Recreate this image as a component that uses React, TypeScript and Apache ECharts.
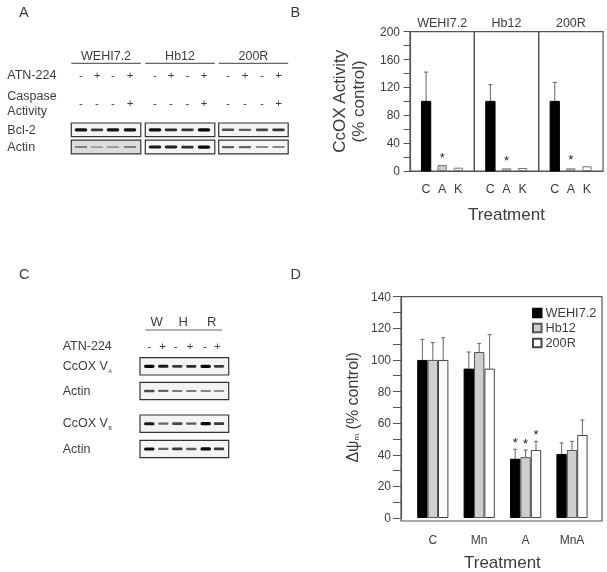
import React, { useEffect, useRef } from "react";
import * as echarts from "echarts";

// ---------- data ----------
const cellLines = ["WEHI7.2", "Hb12", "200R"];
const treatB = ["", "C", "A", "K", ""];
const cocoxC = [100, 100, 100];
const cocoxA = [8.5, 3.8, 3.8];
const cocoxK = [4.8, 4.3, 6.7];
const cocoxCTop = [142, 124, 127];
const cocoxStars = [23, 18.7, 19.6];

const treatD = ["C", "Mn", "A", "MnA"];
const psiWehi = [100, 94.5, 37.5, 40.5];
const psiHb12 = [100, 105, 38.5, 43];
const psi200R = [100, 94.5, 43, 52.5];
const psiWehiTop = [113, 105, 43.5, 47.5];
const psiHb12Top = [111, 110.5, 43, 48.5];
const psi200RTop = [114, 116, 48.5, 62];
const psiStars: (number | null)[][] = [
  [null, null, 49.5, null],
  [null, null, 49, null],
  [null, null, 54.5, null],
];

const atnSigns = ["-", "+", "-", "+"];
const caspaseSigns = ["-", "-", "-", "+"];
const atnSignsC = ["-", "+", "-", "+", "-", "+"];
const bcl2Bands = [
  [0.92, 0.72, 0.92, 0.92],
  [0.95, 0.8, 0.75, 1],
  [0.62, 0.52, 0.66, 0.76],
];
const actinABands = [
  [0.35, 0.22, 0.25, 0.35],
  [0.9, 0.85, 0.8, 1],
  [0.52, 0.5, 0.3, 0.3],
];
const vaBands = [1, 0.9, 0.72, 0.8, 1, 0.72];
const actinC1Bands = [0.62, 0.5, 0.38, 0.38, 0.32, 0.28];
const vbBands = [0.9, 0.5, 0.65, 0.55, 1, 0.72];
const actinC2Bands = [0.95, 0.5, 0.72, 0.55, 1, 0.72];

// ---------- styling ----------
const FONT = '"Liberation Sans", Arial, sans-serif';
const TEXT = "#3c3c3c";
const LINE = "#555";
const bandColor = (v: number) => {
  const c = Math.round(195 - 190 * v);
  return `rgb(${c},${c},${c})`;
};
const txt = (x: number, y: number, text: string, fontSize = 12.5, align = "left", fill = TEXT) => ({
  type: "text",
  x,
  y,
  silent: true,
  style: { text, fontSize, fontFamily: FONT, fill, align, verticalAlign: "middle" },
});
const hline = (x1: number, x2: number, y: number) => ({
  type: "line",
  silent: true,
  shape: { x1, y1: y, x2, y2: y },
  style: { stroke: "#666", lineWidth: 1.2 },
});
const blot = (x: number, y: number, w: number, h: number, centers: number[], bands: number[], bandW: number, bg = "#f4f4f4") => [
  {
    type: "rect",
    silent: true,
    shape: { x, y, width: w, height: h },
    style: { fill: bg, stroke: "#333", lineWidth: 1.2 },
  },
  ...bands.map((v, i) => {
    const bh = 1.4 + 1.8 * v;
    return {
      type: "rect",
      silent: true,
      shape: { x: centers[i] - bandW / 2, y: y + h / 2 - bh / 2, width: bandW, height: bh, r: bh / 2 },
      style: { fill: bandColor(v) },
    };
  }),
];

function buildGraphics() {
  const g: any[] = [];
  g.push(txt(19, 12, "A", 14.5), txt(290.5, 12, "B", 14.5), txt(19, 274, "C", 14.5), txt(290.5, 274, "D", 14.5));

  // panel A
  const boxes = [71.3, 145.3, 218.7];
  const boxW = 69.5;
  const laneCols = [
    [81, 97, 113, 130],
    [155, 171, 187.5, 204],
    [228, 245, 262, 278.5],
  ];
  g.push(txt(7.3, 75, "ATN-224"), txt(7.3, 96, "Caspase"), txt(7.3, 110.7, "Activity"), txt(7.3, 130, "Bcl-2"), txt(7.3, 147, "Actin"));
  cellLines.forEach((name, k) => {
    g.push(txt(boxes[k] + boxW / 2, 55.5, name, 12.5, "center"));
    g.push(hline(boxes[k], boxes[k] + boxW, 63.3));
    laneCols[k].forEach((cx, i) => {
      g.push(txt(cx, 75, atnSigns[i], 11.5, "center"));
      g.push(txt(cx, 103, caspaseSigns[i], 11.5, "center"));
    });
    g.push(...blot(boxes[k], 123, boxW, 13.7, laneCols[k], bcl2Bands[k], 12.5));
    g.push(...blot(boxes[k], 140.2, boxW, 13.7, laneCols[k], actinABands[k], 12.5, k === 0 ? "#dcdcdc" : "#f4f4f4"));
  });

  // panel C
  g.push(txt(156.7, 321.5, "W", 13, "center"), txt(183.3, 321.5, "H", 13, "center"), txt(211.7, 321.5, "R", 13, "center"));
  g.push(hline(145.3, 222.3, 330));
  g.push(txt(62.7, 346.3, "ATN-224"));
  const signCols = [149.3, 162.7, 175.7, 190, 205, 217.3];
  atnSignsC.forEach((s, i) => g.push(txt(signCols[i], 346, s, 11.5, "center")));
  const cCols = [149.3, 163.3, 177.3, 191.3, 205.7, 219];
  g.push(txt(62.7, 366, "CcOX V"), txt(108.5, 371, "A", 5));
  g.push(txt(62.7, 390.7, "Actin"));
  g.push(txt(62.7, 423.3, "CcOX V"), txt(108.5, 428, "B", 5));
  g.push(txt(62.7, 449, "Actin"));
  g.push(...blot(140, 357.7, 88.7, 17.3, cCols, vaBands, 10.5));
  g.push(...blot(140, 382.3, 88.7, 17.3, cCols, actinC1Bands, 10.5));
  g.push(...blot(140, 415, 88.7, 17.3, cCols, vbBands, 10.5));
  g.push(...blot(140, 440.3, 88.7, 17.3, cCols, actinC2Bands, 10.5));

  // panel D frame
  g.push({
    type: "rect",
    silent: true,
    z: 20,
    shape: { x: 401, y: 296.7, width: 201, height: 224.3 },
    style: { fill: "none", stroke: LINE, lineWidth: 1.2 },
  });
  return g;
}

const starSeries = (xAxisIndex: number, yAxisIndex: number, data: any[], dx: number) => ({
  type: "custom",
  xAxisIndex,
  yAxisIndex,
  silent: true,
  z: 6,
  data,
  renderItem: (_: any, api: any) => {
    if (api.value(1) == null || isNaN(api.value(1))) return null;
    const p = api.coord([api.value(0), api.value(1)]);
    return {
      type: "text",
      x: p[0] + dx,
      y: p[1] + 2.5,
      style: { text: "*", fontSize: 13, fontFamily: FONT, fill: "#222", align: "center", verticalAlign: "middle" },
    };
  },
});

const errSeries = (xAxisIndex: number, yAxisIndex: number, data: any[], dx: number) => ({
  type: "custom",
  xAxisIndex,
  yAxisIndex,
  silent: true,
  z: 1,
  data,
  renderItem: (_: any, api: any) => {
    const lo = api.coord([api.value(0), api.value(1)]);
    const hi = api.coord([api.value(0), api.value(2)]);
    const x = lo[0] + dx;
    const style = { stroke: "#666", lineWidth: 1, fill: "none" };
    return {
      type: "group",
      children: [
        { type: "line", shape: { x1: x, y1: lo[1], x2: x, y2: hi[1] }, style },
        { type: "line", shape: { x1: x - 2, y1: hi[1], x2: x + 2, y2: hi[1] }, style },
      ],
    };
  },
});

function buildOption() {
  const leftsB = [410, 474.3, 538.7];
  const grids: any[] = leftsB.map((left) => ({
    left,
    top: 31.7,
    width: 64.35,
    height: 139.3,
    show: true,
    borderColor: LINE,
    borderWidth: 1.2,
    backgroundColor: "transparent",
  }));
  grids.push({ left: 409.6, top: 296.7, width: 185.6, height: 224.3 });

  const axisFont = { fontFamily: FONT, color: TEXT };
  const xAxes: any[] = leftsB.map((_, i) => ({
    type: "category",
    gridIndex: i,
    data: treatB,
    boundaryGap: false,
    axisTick: { show: false },
    axisLine: { onZero: false, lineStyle: { color: LINE, width: 1.2 } },
    axisLabel: { ...axisFont, fontSize: 12.5, margin: 11, interval: 0 },
    ...(i === 1
      ? {
          name: "Treatment",
          nameLocation: "middle",
          nameGap: 35,
          nameTextStyle: { fontFamily: FONT, fontSize: 17, color: TEXT },
        }
      : {}),
  }));
  xAxes.push({
    type: "category",
    gridIndex: 3,
    data: treatD,
    axisTick: { show: false },
    axisLine: { show: false },
    axisLabel: { ...axisFont, fontSize: 12, margin: 16 },
    name: "Treatment",
    nameLocation: "middle",
    nameGap: 36,
    nameTextStyle: { fontFamily: FONT, fontSize: 17, color: TEXT },
  });

  const yAxes: any[] = leftsB.map((_, i) => ({
    type: "value",
    gridIndex: i,
    min: 0,
    max: 200,
    interval: 40,
    show: i === 0,
    splitLine: { show: false },
    axisLine: { show: true, lineStyle: { color: LINE, width: 1.2 } },
    axisTick: { show: true, length: 6.5, lineStyle: { color: LINE, width: 1 } },
    minorTick: { show: true, splitNumber: 2, length: 6.5, lineStyle: { color: LINE, width: 1 } },
    axisLabel: { ...axisFont, fontSize: 12, margin: 10 },
    ...(i === 0
      ? {
          name: "CcOX Activity\n(% control)",
          nameLocation: "middle",
          nameGap: 42,
          nameTextStyle: { fontFamily: FONT, fontSize: 17, lineHeight: 19, color: TEXT },
        }
      : {}),
  }));
  yAxes.push({
    type: "value",
    gridIndex: 3,
    min: 0,
    max: 140,
    interval: 20,
    offset: 8.6,
    splitLine: { show: false },
    axisLine: { show: true, lineStyle: { color: LINE, width: 1.2 } },
    axisTick: { show: true, length: 8, lineStyle: { color: LINE, width: 1 } },
    minorTick: { show: true, splitNumber: 2, length: 8, lineStyle: { color: LINE, width: 1 } },
    axisLabel: { ...axisFont, fontSize: 12, margin: 10 },
    name: "{n|Δψ}{s|m}{n| (% control)}",
    nameLocation: "middle",
    nameGap: 41,
    nameTextStyle: {
      rich: {
        n: { fontFamily: FONT, fontSize: 16, color: TEXT },
        s: { fontFamily: FONT, fontSize: 8, color: TEXT, verticalAlign: "bottom" },
      },
    },
  });

  const series: any[] = [];
  cellLines.forEach((name, i) => {
    series.push({
      type: "bar",
      name: `CcOX ${name}`,
      xAxisIndex: i,
      yAxisIndex: i,
      barWidth: 9.3,
      barGap: "-100%",
      z: 3,
      data: [
        null,
        { value: cocoxC[i], itemStyle: { color: "#000", borderColor: "#000" } },
        { value: cocoxA[i], itemStyle: { color: "#cfcfcf", borderColor: "#777", borderWidth: 1 } },
        { value: cocoxK[i], itemStyle: { color: "#fff", borderColor: "#777", borderWidth: 1 } },
        null,
      ],
    });
    series.push(errSeries(i, i, [[1, cocoxC[i], cocoxCTop[i]]], 0));
    series.push(starSeries(i, i, [[2, cocoxStars[i]]], 0));
  });

  const groups = [
    { name: "WEHI7.2", vals: psiWehi, tops: psiWehiTop, color: "#000", border: "#000" },
    { name: "Hb12", vals: psiHb12, tops: psiHb12Top, color: "#cfcfcf", border: "#555" },
    { name: "200R", vals: psi200R, tops: psi200RTop, color: "#fff", border: "#444" },
  ];
  const bw = 10.4;
  groups.forEach((g, k) => {
    series.push({
      type: "bar",
      name: g.name,
      xAxisIndex: 3,
      yAxisIndex: 3,
      barWidth: bw,
      barGap: 0,
      z: 3,
      itemStyle: { color: g.color, borderColor: g.border, borderWidth: 1 },
      data: g.vals,
    });
    series.push(errSeries(3, 3, g.vals.map((v, i) => [i, v, g.tops[i]]), (k - 1) * bw));
    series.push(
      starSeries(3, 3, psiStars[k].map((v, i) => [i, v]).filter((d) => d[1] != null), (k - 1) * bw)
    );
  });

  return {
    animation: false,
    backgroundColor: "#fff",
    textStyle: { fontFamily: FONT },
    title: cellLines.map((text, i) => ({
      text,
      left: leftsB[i] + 32.2,
      top: 16,
      padding: 0,
      textAlign: "center",
      textStyle: { fontFamily: FONT, fontSize: 12.5, fontWeight: "normal", color: TEXT },
    })),
    legend: {
      data: groups.map((g) => ({ name: g.name, icon: "rect" })),
      orient: "vertical",
      left: 532,
      top: 306.5,
      itemWidth: 8.5,
      itemHeight: 8.5,
      itemGap: 2,
      padding: 0,
      textStyle: { fontFamily: FONT, fontSize: 12.7, color: TEXT, padding: [0, 0, 0, -1] },
      selectedMode: false,
    },
    grid: grids,
    xAxis: xAxes,
    yAxis: yAxes,
    series,
    graphic: { elements: buildGraphics() },
  };
}

export default function App() {
  const ref = useRef<HTMLDivElement>(null);
  useEffect(() => {
    const chart = echarts.init(ref.current!, undefined, { renderer: "svg" });
    chart.setOption(buildOption() as any);
    return () => chart.dispose();
  }, []);
  return (
    <div
      ref={ref}
      style={{ position: "absolute", left: 0, top: 0, width: 607, height: 572, background: "#fff", filter: "blur(0.45px)" }}
    />
  );
}
